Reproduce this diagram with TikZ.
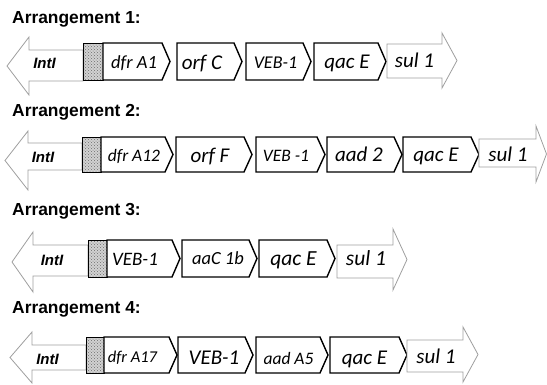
\documentclass[tikz,border=0pt]{standalone}
\usepackage{fontspec}
\setmainfont{Liberation Sans}
\newfontfamily\genefont{Carlito}
\usetikzlibrary{patterns}
\tikzset{
 genebox/.style={draw=black, line width=1.4pt, line join=miter, fill=white},
 greyarrow/.style={draw=gray!75, line width=0.8pt, fill=white, line join=miter},
 hatchbox/.style={draw=black, line width=0.7pt, pattern=crosshatch dots, pattern color=gray!85!black},
 hatchbg/.style={fill=gray!35},
 titletext/.style={anchor=base west, inner sep=0pt, font=\fontsize{17.4}{20}\selectfont\bfseries},
 intlabel/.style={anchor=base, inner sep=0pt, font=\fontsize{15}{18}\selectfont\bfseries\itshape},
 genelabel/.style={anchor=base, inner sep=0pt, font=\genefont\itshape},
}
% pentagon gene box: x1, tip x, top, bottom
\newcommand\genepent[4]{\draw[genebox] (#1,#3) -- ({#2-8},#3) -- (#2,{(#3+#4)/2}) -- ({#2-8},#4) -- (#1,#4) -- cycle;}
% IntI arrow: tip x, head base x, shaft right, shaft top, shaft bottom, head top, head bottom
\newcommand\intarrow[7]{\draw[greyarrow] (#1,{(#6+#7)/2}) -- (#2,#6) -- (#2,#4) -- (#3,#4) -- (#3,#5) -- (#2,#5) -- (#2,#7) -- cycle;}
% sul arrow: left x, head base x, tip x, shaft top, shaft bottom, head top, head bottom
\newcommand\sularrow[7]{\draw[greyarrow] (#1,#4) -- (#2,#4) -- (#2,#6) -- (#3,{(#6+#7)/2}) -- (#2,#7) -- (#2,#5) -- (#1,#5) -- cycle;}
% hatched box: x1, x2, top, bottom
\newcommand\hatchrect[4]{\fill[hatchbg] (#1,#3) rectangle (#2,#4); \draw[hatchbox] (#1,#3) rectangle (#2,#4);}
% label: name, x, baseline, size, text
\newcommand\glab[5]{\node[genelabel] (#1) at (#2,#3) {\fontsize{#4}{#4}\selectfont #5};}
\begin{document}
\begin{tikzpicture}[x=1pt,y=-1pt]
\useasboundingbox (0,0) rectangle (547,384);
% ---------- Arrangement 1
\node[titletext] (t1) at (12,23) {Arrangement 1:};
\intarrow{7}{29}{83}{50}{81}{37}{95}
\hatchrect{83}{103}{43}{80}
\genepent{103}{170}{43}{80}
\genepent{177}{242}{43}{80}
\genepent{246}{311}{43}{80}
\genepent{314}{386}{43}{80}
\sularrow{387}{442}{457}{44}{78}{33}{88}
\node[intlabel] (i1) at (44.5,68) {IntI};
\glab{a1}{134}{68}{18.5}{dfr A1}
\glab{a2}{202}{69}{21}{orf C}
\glab{a3}{275.5}{68}{18}{VEB-1}
\glab{a4}{347}{68}{21}{qac E}
\glab{a5}{414.5}{67}{21}{sul 1}
% ---------- Arrangement 2
\node[titletext] (t2) at (12,116) {Arrangement 2:};
\intarrow{5}{28}{82}{143}{170}{131}{190}
\hatchrect{82}{101}{137}{172}
\genepent{101}{173}{137}{172}
\genepent{176}{252}{137}{172}
\genepent{256}{325}{137}{172}
\genepent{327}{402}{137}{172}
\genepent{403}{479}{137}{172}
\sularrow{479}{536}{546.5}{139}{167}{126}{182}
\node[intlabel] (i2) at (43,162) {IntI};
\glab{b1}{134}{161}{17.5}{dfr A12}
\glab{b2}{210}{162}{21}{orf F}
\glab{b3}{286}{161}{17.5}{VEB -1}
\glab{b4}{359}{161}{21}{aad 2}
\glab{b5}{436}{161}{21}{qac E}
\glab{b6}{508}{161}{21}{sul 1}
% ---------- Arrangement 3
\node[titletext] (t3) at (12,215) {Arrangement 3:};
\intarrow{12}{33}{88}{245}{276}{232}{292}
\hatchrect{88}{107}{240}{277}
\genepent{107}{180}{240}{277}
\genepent{182}{257}{240}{277}
\genepent{259}{335}{240}{277}
\sularrow{337}{393}{407}{245}{278}{229}{290}
\node[intlabel] (i3) at (52,265) {IntI};
\glab{c1}{135}{265}{19}{VEB-1}
\glab{c2}{218}{264.5}{18.5}{aaC 1b}
\glab{c3}{293.5}{265}{21.5}{qac E}
\glab{c4}{366}{265}{21.5}{sul 1}
% ---------- Arrangement 4
\node[titletext] (t4) at (12,313) {Arrangement 4:};
\intarrow{10}{32}{86}{345}{370}{332}{383}
\hatchrect{86}{104}{337}{373}
\genepent{104}{177}{337}{373}
\genepent{178}{253}{337}{373}
\genepent{256}{328}{337}{373}
\genepent{330}{407}{337}{373}
\sularrow{407}{463}{478}{340}{372}{327}{382}
\node[intlabel] (i4) at (47.5,364) {IntI};
\glab{d1}{132.5}{362}{16.5}{dfr A17}
\glab{d2}{214}{364}{21}{VEB-1}
\glab{d3}{288.5}{364}{17.5}{aad A5}
\glab{d4}{364.5}{364}{21}{qac E}
\glab{d5}{436}{363}{21}{sul 1}
\end{tikzpicture}
\end{document}
